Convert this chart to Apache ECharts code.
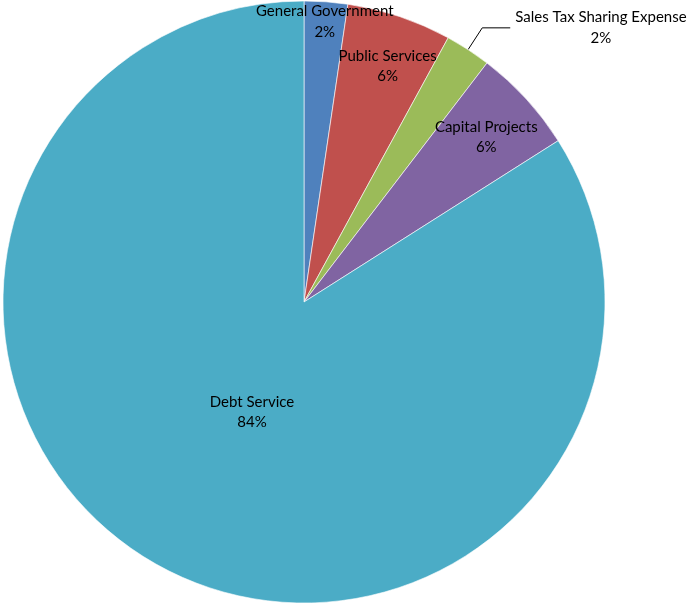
<!DOCTYPE html>
<html>
<head>
<meta charset="utf-8">
<script src="https://cdn.jsdelivr.net/npm/echarts@6/dist/echarts.min.js"></script>
<style>html,body{margin:0;padding:0;background:#fff;}#c{width:694px;height:605px;}</style>
</head>
<body>
<div id="c"></div>
<script>
const categories = ['General Government', 'Public Services', 'Sales Tax Sharing Expense', 'Capital Projects', 'Debt Service'];
const values = [2.33, 5.62, 2.45, 5.6, 84.0];
const colors = ['#4F81BD', '#C0504D', '#9BBB59', '#8064A2', '#4BACC6'];

const CENTER = [304, 302];
const R = 301;
const FONT = { fontFamily: 'Lato', fontSize: 15, color: '#000', lineHeight: 20.5 };

// inner label rings (label sits at middle of [inner, outer]) and fine nudges
const labelRings = {
  'General Government': [261, 301],
  'Public Services': [201, 301],
  'Capital Projects': [190, 301],
  'Debt Service': [0, 239]
};
const labelNudge = {
  'General Government': [0, 3],
  'Public Services': [3, 5],
  'Capital Projects': [-1, 3],
  'Debt Service': [7, 3]
};

const mainData = categories.map((name, i) => {
  const item = { name, value: values[i], itemStyle: { color: colors[i] } };
  if (name === 'Sales Tax Sharing Expense') {
    item.label = {
      show: true, position: 'outside',
      formatter: '{a|{b}}\n{c|{d}%}',
      rich: { a: Object.assign({}, FONT), c: Object.assign({ align: 'center' }, FONT) }
    };
    item.labelLine = { show: true, length: 26, length2: 28, lineStyle: { color: '#000', width: 1 } };
  } else {
    item.label = { show: false };
    item.labelLine = { show: false };
  }
  return item;
});

const series = [{
  type: 'pie', center: CENTER, radius: [0, R], startAngle: 90, clockwise: true,
  avoidLabelOverlap: false, silent: true, percentPrecision: 0,
  itemStyle: { borderColor: '#fff', borderWidth: 0.6 },
  label: Object.assign({ show: false }, FONT),
  data: mainData
}];

Object.keys(labelRings).forEach(target => {
  series.push({
    type: 'pie', center: CENTER, radius: labelRings[target], startAngle: 90, clockwise: true,
    avoidLabelOverlap: false, silent: true, z: 5, percentPrecision: 0,
    itemStyle: { color: 'rgba(0,0,0,0)', borderWidth: 0 },
    emphasis: { disabled: true },
    data: categories.map((name, i) => ({
      name, value: values[i],
      label: name === target
        ? Object.assign({ show: true, position: 'inside', formatter: '{b}\n{d}%', align: 'center', offset: labelNudge[target] }, FONT)
        : { show: false },
      labelLine: { show: false }
    }))
  });
});

const chart = echarts.init(document.getElementById('c'), null, { renderer: 'canvas' });
chart.setOption({ animation: false, backgroundColor: '#fff', series });
</script>
</body>
</html>
